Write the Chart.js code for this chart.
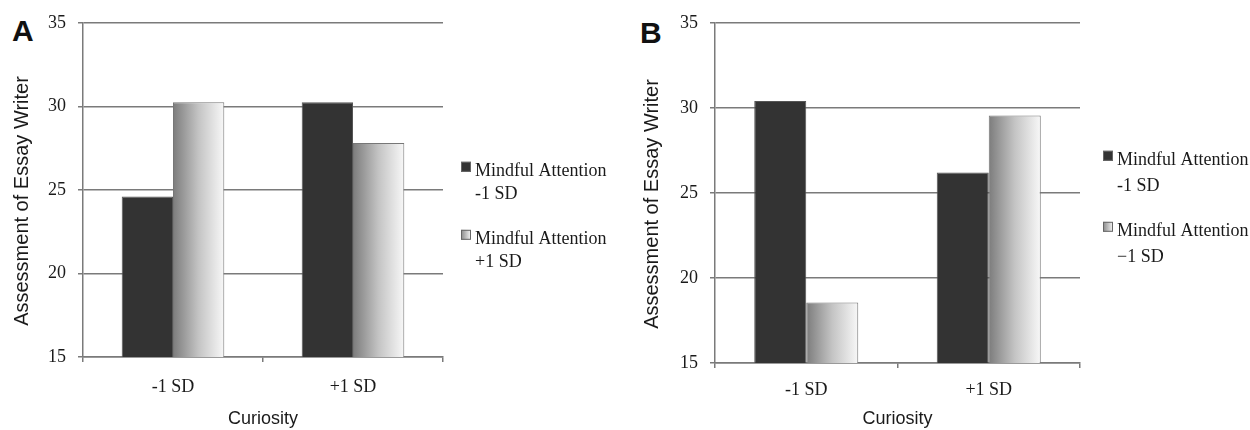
<!DOCTYPE html>
<html>
<head>
<meta charset="utf-8">
<script src="https://cdn.jsdelivr.net/npm/chart.js@4.4.1/dist/chart.umd.min.js"></script>
<style>
  body { margin:0; background:#fff; width:1250px; height:430px; position:relative; overflow:hidden; }
  canvas { position:absolute; top:0; }
  #chartA { left:0; }
  #chartB { left:620px; }
  .tag { position:absolute; font:bold 30px 'Liberation Sans', Arial, sans-serif; line-height:30px; color:#111; }
</style>
</head>
<body>
<div class="tag" style="left:12px;top:16px">A</div>
<div class="tag" style="left:640px;top:18px">B</div>
<canvas id="chartA" width="620" height="430"></canvas>
<canvas id="chartB" width="630" height="430"></canvas>
<script>
// data
const categories = ['-1 SD', '+1 SD'];
const panelA_lowMA  = [24.6, 30.25];
const panelA_highMA = [30.25, 27.8];
const panelB_lowMA  = [30.4, 26.2];
const panelB_highMA = [18.55, 29.55];
const legendA = [['Mindful Attention', '-1 SD'], ['Mindful Attention', '+1 SD']];
const legendB = [['Mindful Attention', '-1 SD'], ['Mindful Attention', '\u22121 SD']];
const yMin = 15, yMax = 35, yStep = 5;
const xTitle = 'Curiosity';
const yTitle = 'Assessment of Essay Writer    '; // trailing spaces nudge it down a bit

const DARK = '#333333';
const GRID = '#7a7a7a';
const serif = "'Liberation Serif', 'Times New Roman', serif";
const sans = "'Liberation Sans', Arial, sans-serif";

// horizontal grey->white fill for the light bars
const gradientBars = {
  id: 'gradientBars',
  beforeDatasetsDraw(chart) {
    const ctx = chart.ctx;
    chart.getDatasetMeta(1).data.forEach(el => {
      const g = ctx.createLinearGradient(el.x - el.width / 2, 0, el.x + el.width / 2, 0);
      g.addColorStop(0, '#7c7c7c');
      g.addColorStop(0.5, '#c4c4c4');
      g.addColorStop(1, '#f8f8f8');
      el.options.backgroundColor = g;
    });
  }
};

// two-line legend to the right of the plot
const sideLegend = {
  id: 'sideLegend',
  afterDraw(chart, args, opts) {
    const ctx = chart.ctx;
    const x0 = chart.chartArea.right + opts.dx;
    const top = chart.chartArea.top;
    ctx.save();
    ctx.font = '18px ' + serif;
    ctx.textBaseline = 'alphabetic';
    opts.items.forEach((lines, i) => {
      const base = top + opts.baselines[i];
      const sy = base - 14;
      if (i === 0) {
        ctx.fillStyle = DARK;
      } else {
        const g = ctx.createLinearGradient(x0, 0, x0 + 10, 0);
        g.addColorStop(0, '#888');
        g.addColorStop(1, '#f4f4f4');
        ctx.fillStyle = g;
      }
      ctx.fillRect(x0, sy, 10, 10);
      ctx.strokeStyle = '#666';
      ctx.lineWidth = 1;
      ctx.strokeRect(x0 + 0.5, sy + 0.5, 9, 9);
      ctx.fillStyle = '#1a1a1a';
      ctx.fillText(lines[0], x0 + 14, base);
      ctx.fillText(lines[1], x0 + 14, base + opts.lineGap);
    });
    ctx.restore();
  }
};

function makePanel(id, lowVals, highVals, legendItems, cfg) {
  return new Chart(document.getElementById(id), {
    type: 'bar',
    data: {
      labels: categories,
      datasets: [
        { label: legendItems[0].join(' '), data: lowVals, backgroundColor: DARK,
          borderColor: '#555', borderWidth: 1 },
        { label: legendItems[1].join(' '), data: highVals, backgroundColor: () => '#bbbbbb',
          borderColor: '#777', borderWidth: 1 }
      ]
    },
    options: {
      responsive: false,
      animation: false,
      devicePixelRatio: 1,
      categoryPercentage: 0.57,
      barPercentage: 1,
      layout: { padding: { left: cfg.padLeft, top: 22, right: cfg.padRight, bottom: 0 } },
      plugins: {
        legend: { display: false },
        tooltip: { enabled: false },
        sideLegend: { dx: cfg.legendDx, baselines: cfg.baselines, lineGap: cfg.lineGap, items: legendItems }
      },
      scales: {
        x: {
          grid: { display: true, offset: true, drawOnChartArea: false, drawTicks: true, tickLength: 5, color: GRID, lineWidth: 1.5 },
          border: { display: true, color: GRID, width: 1.5 },
          ticks: { font: { family: serif, size: 18 }, color: '#1a1a1a', padding: cfg.xPad, maxRotation: 0 },
          title: { display: true, text: xTitle, font: { family: sans, size: 18 }, color: '#1a1a1a', padding: 0 },
          afterFit: s => { s.height = cfg.xHeight; }
        },
        y: {
          min: yMin, max: yMax,
          ticks: { stepSize: yStep, font: { family: serif, size: 18 }, color: '#1a1a1a', padding: 12 },
          grid: { color: GRID, lineWidth: 1.5, tickLength: 5, drawTicks: true },
          border: { display: true, color: GRID, width: 1.5 },
          title: { display: true, text: yTitle, font: { family: sans, size: 20 }, color: '#1a1a1a', padding: 0 },
          afterFit: s => { s.width = cfg.yWidth; }
        }
      }
    },
    plugins: [gradientBars, sideLegend]
  });
}

makePanel('chartA', panelA_lowMA, panelA_highMA, legendA, {
  padLeft: 10, padRight: 177, yWidth: 73, xHeight: 73, xPad: 14,
  legendDx: 18, baselines: [153, 221], lineGap: 23
});
makePanel('chartB', panelB_lowMA, panelB_highMA, legendB, {
  padLeft: 20, padRight: 170, yWidth: 75, xHeight: 67, xPad: 11,
  legendDx: 23, baselines: [142, 213], lineGap: 26
});
</script>
</body>
</html>
